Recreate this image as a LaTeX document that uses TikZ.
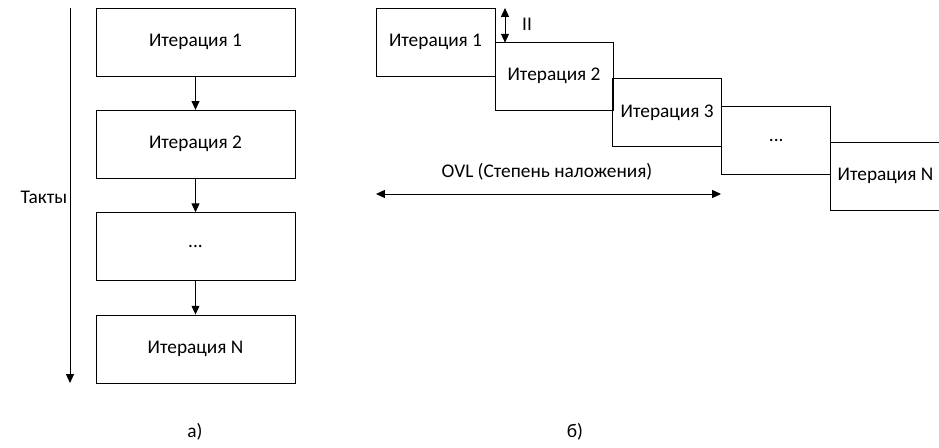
\documentclass[tikz,border=0pt]{standalone}
\usepackage{fontspec}
\setmainfont{Carlito}
\usetikzlibrary{arrows.meta}
\tikzset{
  iterbox/.style={draw, line width=0.5pt, minimum height=1.36cm, inner sep=0pt, font=\fontsize{11}{13}\selectfont},
  flowarrow/.style={-{Triangle[length=5pt,width=4.5pt]}, line width=0.5pt},
  botharrow/.style={{Triangle[length=5pt,width=4.5pt]}-{Triangle[length=5pt,width=4.5pt]}, line width=0.5pt},
  lbl/.style={font=\fontsize{11}{13}\selectfont},
}

\begin{document}
\begin{tikzpicture}[x=0.02cm, y=-0.02cm]
\useasboundingbox (0,0) rectangle (939,448);

% a) one iteration after another
\node[iterbox, minimum width=3.98cm] (a1) at (195.5,42) {Итерация 1};
\node[iterbox, minimum width=3.98cm] (a2) at (195.5,144.3) {Итерация 2};
\node[iterbox, minimum width=3.98cm] (a3) at (195.5,246.7) {...};
\node[iterbox, minimum width=3.98cm] (aN) at (195.5,349) {Итерация N};
\draw[flowarrow] (a1) -- (a2);
\draw[flowarrow] (a2) -- (a3);
\draw[flowarrow] (a3) -- (aN);

\coordinate (ttop) at (70,8);
\coordinate (tbot) at (70,383);
\draw[flowarrow] (ttop) -- (tbot);
\node[lbl] (takty) at (44,197) {Такты};
\node[lbl] (capa) at (195,432) {а)};

% b) overlapped iterations
\node[iterbox, minimum width=2.38cm] (b1) at (435.5,42) {Итерация 1};
\node[iterbox, minimum width=2.36cm] (b2) at (554,76.3) {Итерация 2};
\node[iterbox, minimum width=2.18cm] (b3) at (667.2,112.8) {Итерация 3};
\node[iterbox, minimum width=2.18cm] (b4) at (776.2,140) {...};
\node[iterbox, minimum width=2.2cm] (bN) at (885.5,176) {Итерация N};

\coordinate (iitop) at (505,8);
\coordinate (iibot) at (505,42.7);
\draw[botharrow] (iitop) -- (iibot);
\node[lbl] (ii) at (527,24) {II};

\coordinate (ovlleft) at (376,194);
\coordinate (ovlright) at (721,194);
\draw[botharrow] (ovlleft) -- (ovlright);
\node[lbl] (ovl) at (547,172) {OVL (Степень наложения)};
\node[lbl] (capb) at (575,432) {б)};
\end{tikzpicture}
\end{document}
